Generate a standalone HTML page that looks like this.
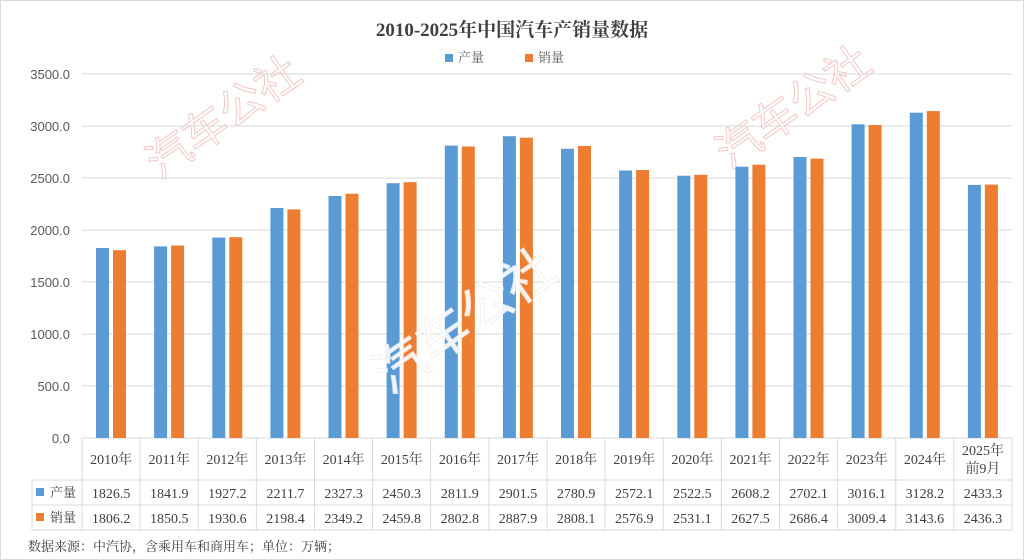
<!DOCTYPE html>
<html><head><meta charset="utf-8"><style>
html,body{margin:0;padding:0;background:#fff;}
svg{display:block;font-family:"Liberation Serif","Noto Serif CJK SC",serif;}
</style></head><body>
<svg id="c" width="1024" height="560" viewBox="0 0 1024 560" xmlns="http://www.w3.org/2000/svg">
<rect x="0.5" y="0.5" width="1023" height="559" fill="#fff" stroke="#d9d9d9"/>
<text x="512" y="36" text-anchor="middle" font-size="19" font-weight="bold" fill="#404040">2010-2025年中国汽车产销量数据</text>
<rect x="445" y="54" width="8" height="8" fill="#5b9bd5"/>
<text x="458" y="62" font-size="13" fill="#595959">产量</text>
<rect x="525" y="54" width="8" height="8" fill="#ed7d31"/>
<text x="538" y="62" font-size="13" fill="#595959">销量</text>
<g id="g"></g>
<text x="28" y="551" font-size="13" fill="#404040">数据来源：中汽协，含乘用车和商用车；单位：万辆；</text>
</svg>
<script>
var p=[1826.5,1841.9,1927.2,2211.7,2327.3,2450.3,2811.9,2901.5,2780.9,2572.1,2522.5,2608.2,2702.1,3016.1,3128.2,2433.3];
var s=[1806.2,1850.5,1930.6,2198.4,2349.2,2459.8,2802.8,2887.9,2808.1,2576.9,2531.1,2627.5,2686.4,3009.4,3143.6,2436.3];
var h='',x0=82,x1=1012,W=(x1-x0)/16,y0=438,k=52/500;
// watermarks
h+='<text x="160" y="180" font-size="44" fill="none" stroke="#f4c7c7" stroke-width="1" transform="rotate(-35 160 180)" font-family="Noto Sans CJK SC,sans-serif">汽车公社</text>';
h+='<text x="730" y="170" font-size="44" fill="none" stroke="#f4c7c7" stroke-width="1" transform="rotate(-35 730 170)" font-family="Noto Sans CJK SC,sans-serif">汽车公社</text>';
for(var i=0;i<=7;i++){var y=y0-i*52;h+='<line x1="'+x0+'" x2="'+x1+'" y1="'+y+'" y2="'+y+'" stroke="#d9d9d9"/>';
h+='<text x="70" y="'+(y+5)+'" text-anchor="end" font-size="13" fill="#595959" font-family="Liberation Sans,sans-serif">'+(i*500).toFixed(1)+'</text>';}
for(var i=0;i<16;i++){var cx=x0+i*W;
var hp=p[i]*k,hs=s[i]*k;
h+='<rect x="'+(cx+14).toFixed(1)+'" y="'+(y0-hp).toFixed(1)+'" width="13" height="'+hp.toFixed(1)+'" fill="#5b9bd5"/>';
h+='<rect x="'+(cx+31).toFixed(1)+'" y="'+(y0-hs).toFixed(1)+'" width="13" height="'+hs.toFixed(1)+'" fill="#ed7d31"/>';}
h+='<text x="390" y="395" font-size="52" fill="#fff" stroke="#f0f0f0" stroke-width="1" transform="rotate(-35 390 395)" font-family="Noto Sans CJK SC,sans-serif" opacity="0.9">汽车公社</text>';
// table
var st='stroke="#d9d9d9"';
h+='<line x1="'+x0+'" x2="'+x0+'" y1="'+y0+'" y2="530" '+st+'/>';
for(var i=1;i<=16;i++){var x=x0+i*W;h+='<line x1="'+x+'" x2="'+x+'" y1="'+y0+'" y2="530" '+st+'/>';}
h+='<line x1="32" x2="'+x1+'" y1="480" y2="480" '+st+'/><line x1="32" x2="'+x1+'" y1="505" y2="505" '+st+'/><line x1="32" x2="'+x1+'" y1="530" y2="530" '+st+'/><line x1="32" x2="32" y1="480" y2="530" '+st+'/>';
h+='<rect x="36" y="488" width="8" height="8" fill="#5b9bd5"/><text x="50" y="497" font-size="13" fill="#404040">产量</text>';
h+='<rect x="36" y="513" width="8" height="8" fill="#ed7d31"/><text x="50" y="522" font-size="13" fill="#404040">销量</text>';
for(var i=0;i<16;i++){var cx=x0+i*W+W/2;
if(i<15)h+='<text x="'+cx+'" y="464" text-anchor="middle" font-size="14" fill="#404040">'+(2010+i)+'年</text>';
else h+='<text x="'+cx+'" y="455" text-anchor="middle" font-size="14" fill="#404040">2025年</text><text x="'+cx+'" y="473" text-anchor="middle" font-size="14" fill="#404040">前9月</text>';
h+='<text x="'+cx+'" y="498" text-anchor="middle" font-size="14" fill="#404040">'+p[i].toFixed(1)+'</text>';
h+='<text x="'+cx+'" y="523" text-anchor="middle" font-size="14" fill="#404040">'+s[i].toFixed(1)+'</text>';}
document.getElementById('g').innerHTML=h;
</script>
</body></html>
